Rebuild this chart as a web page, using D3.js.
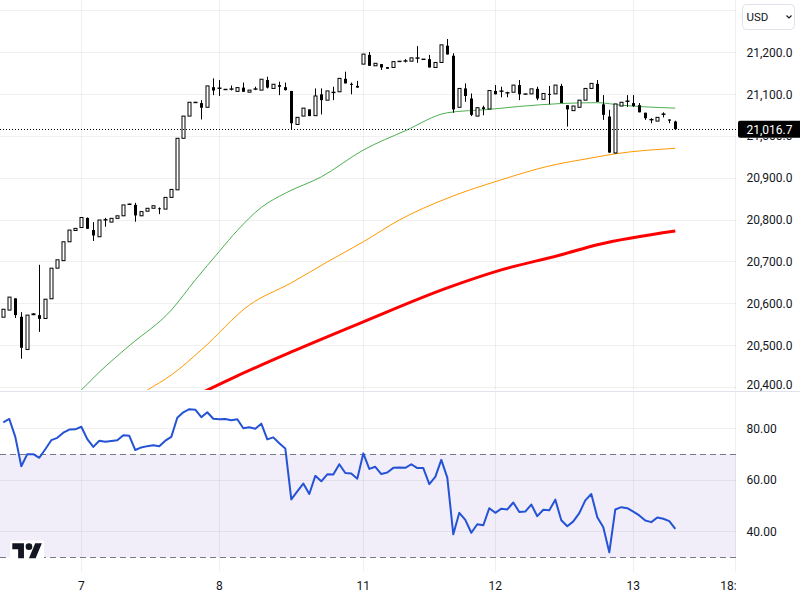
<!DOCTYPE html>
<html><head><meta charset="utf-8">
<script src="https://cdn.jsdelivr.net/npm/d3@7"></script>
<style>html,body{margin:0;padding:0;background:#fff;overflow:hidden}svg{display:block}text{font-family:Roboto,"DejaVu Sans",sans-serif}</style>
</head><body><svg id="c" width="800" height="600"></svg>
<script>
// ---- DATA (hourly candles, index 0..112) ----
const opens=[20568,20585,20613,20569,20491,20574,20573,20565,20612,20685,20703,20748,20775,20782,20805,20776,20760,20800,20795,20804,20810,20837,20836,20810,20821,20828,20828,20826,20854,20872,20995,21048,21080,21079,21069,21117,21114,21111,21112,21107,21116,21105,21112,21110,21134,21114,21122,21117,21108,21028,21048,21064,21049,21100,21086,21104,21106,21137,21125,21120,21172,21194,21168,21172,21165,21164,21178,21179,21179,21186,21183,21184,21164,21176,21216,21192,21069,21114,21090,21048,21069,21065,21108,21107,21103,21105,21122,21100,21101,21113,21088,21101,21101,21120,21074,21061,21069,21086,21114,21125,21076,21047,20960,21072,21083,21079,21074,21056,21039,21036,21052,21040,21035];
const highs=[20587,20616,20613,20580,20573,20577,20693,20611,20685,20705,20748,20776,20780,20806,20806,20795,20800,20805,20804,20810,20836,20839,20841,20820,20828,20834,20830,20854,20873,20995,21048,21081,21082,21086,21120,21138,21134,21112,21121,21116,21128,21110,21118,21136,21142,21124,21130,21128,21108,21045,21067,21064,21114,21114,21108,21118,21138,21154,21128,21132,21196,21201,21174,21172,21165,21178,21179,21184,21187,21215,21184,21194,21176,21218,21232,21198,21114,21126,21102,21068,21073,21109,21122,21118,21106,21122,21134,21101,21113,21118,21102,21120,21122,21125,21074,21072,21086,21114,21126,21134,21098,21063,21077,21081,21098,21098,21079,21056,21043,21045,21057,21040,21037];
const lows=[20568,20585,20566,20469,20491,20573,20533,20565,20612,20685,20703,20748,20775,20782,20779,20750,20760,20784,20795,20804,20810,20837,20796,20810,20821,20828,20814,20826,20854,20872,20995,21048,21080,21040,21069,21098,21096,21111,21109,21107,21106,21105,21110,21110,21114,21114,21098,21109,21017,21028,21048,21048,21049,21052,21086,21086,21106,21126,21100,21116,21172,21168,21168,21158,21161,21164,21178,21176,21179,21175,21183,21164,21164,21176,21195,21056,21069,21082,21048,21048,21050,21065,21100,21093,21093,21105,21086,21100,21101,21086,21088,21076,21101,21079,21023,21061,21069,21086,21114,21082,21039,20960,20959,21072,21070,21070,21057,21039,21031,21036,21045,21031,21016];
const closes=[20587,20616,20573,20495,20573,20576,20564,20611,20685,20705,20748,20776,20780,20806,20779,20763,20800,20801,20804,20810,20836,20838,20811,20820,20828,20834,20827,20854,20873,20995,21048,21081,21081,21068,21120,21109,21115,21112,21113,21116,21106,21110,21113,21136,21116,21124,21118,21110,21031,21045,21067,21048,21096,21086,21108,21105,21138,21126,21124,21116,21196,21168,21174,21164,21161,21178,21179,21180,21187,21187,21184,21164,21176,21218,21195,21064,21114,21096,21051,21068,21065,21109,21100,21108,21104,21122,21100,21101,21113,21090,21102,21100,21122,21079,21064,21072,21086,21114,21126,21082,21051,20961,21077,21081,21084,21072,21057,21043,21040,21045,21053,21037,21016.7];
const rsiValues=[82.3,83.6,76.7,65.3,70.0,70.0,68.6,71.9,75.4,76.3,78.3,79.5,79.6,80.6,75.8,72.8,75.2,74.8,75.1,75.4,77.3,77.1,71.6,72.6,73.1,73.4,73.1,75.2,76.7,84.1,86.2,87.4,87.2,84.3,86.2,83.7,83.5,83.6,83.1,83.5,80.0,80.4,79.8,81.8,75.7,76.5,74.2,72.2,52.5,55.6,58.6,54.6,61.6,59.5,62.2,62.1,66.1,62.7,62.5,60.5,70.3,64.3,65.1,62.3,62.9,64.7,64.8,64.7,66.1,64.6,64.6,58.4,61.2,67.8,60.9,39.0,47.3,44.6,39.6,42.9,42.5,49.1,47.3,48.9,48.6,51.3,47.6,47.8,50.5,46.0,48.5,48.3,52.4,44.4,42.1,44.0,47.2,52.1,54.6,45.6,41.7,32.0,48.6,49.5,49.1,47.8,46.3,44.3,43.7,45.5,45.0,44.1,41.1];
// moving averages read at candle indices: [index, price]
const maGreen=[[12,20380],[13,20394],[16,20437],[21,20500],[28,20585],[32,20657],[36,20725],[39,20775],[43,20830],[47,20864],[53,20903],[60,20967],[67,21013],[74,21056],[81,21064],[86,21071],[93,21078],[99,21080],[103,21074],[112,21067]];
const maOrange=[[22,20376],[24,20394],[28,20430],[33,20490],[41,20597],[48,20650],[54,20700],[60,20748],[66,20800],[74,20852],[83,20896],[91,20929],[98,20948],[102,20958],[112,20971]];
const maRed=[[32,20380],[34,20394],[39,20428],[48,20485],[60,20557],[74,20638],[83,20681],[93,20717],[99,20741],[112,20774]];
const dayTickIdx=[13,36,60,82,105,122];
const dayLabels=["7","8","11","12","13","18:00"];
const priceGrid=[20400,20500,20600,20700,20800,20900,21000,21100,21200,21300];
const priceLabels=[20400,20500,20600,20700,20800,20900,21000,21100,21200];
const rsiTicks=[40,60,80];
const rsiBand=[30,70];
const lastPrice=21016.7;
const currency="USD";

// ---- LAYOUT ----
const W=736, priceBottom=390, rsiTop=391, rsiBottom=572;
const svg=d3.select('#c');
const x=d3.scaleLinear().domain([0,122]).range([3.3,735.3]);
const y=d3.scaleLinear().domain([20400,21200]).range([387.6,52.4]);
const yr=d3.scaleLinear().domain([40,80]).range([531.7,428.3]);
const fmtP=d3.format(",.1f"), fmtR=d3.format(".2f");
const px=v=>Math.round(v-0.5)+0.5;

svg.append('rect').attr('width',800).attr('height',600).attr('fill','#fff');
const defs=svg.append('defs');
defs.append('clipPath').attr('id','cp').append('rect').attr('x',0).attr('y',0).attr('width',W).attr('height',priceBottom);
defs.append('clipPath').attr('id','cr').append('rect').attr('x',0).attr('y',rsiTop).attr('width',W).attr('height',rsiBottom-rsiTop);
defs.append('clipPath').attr('id','ct').append('rect').attr('x',0).attr('y',rsiBottom).attr('width',W).attr('height',600-rsiBottom);
defs.append('clipPath').attr('id','cl2').append('rect').attr('x',738).attr('y',y(lastPrice)+8.5).attr('width',62).attr('height',20);

// RSI band
svg.append('rect').attr('x',0).attr('width',W).attr('y',yr(rsiBand[1])).attr('height',yr(rsiBand[0])-yr(rsiBand[1])).attr('fill','#f1edf9');

// grid
const grid=svg.append('g').attr('stroke','#2a2e39').attr('stroke-opacity',0.07).attr('stroke-width',1);
grid.selectAll('.hp').data(priceGrid).join('line').attr('x1',0).attr('x2',W).attr('y1',d=>px(y(d))).attr('y2',d=>px(y(d)));
grid.selectAll('.hr').data(rsiTicks).join('line').attr('x1',0).attr('x2',W).attr('y1',d=>px(yr(d))).attr('y2',d=>px(yr(d)));
grid.selectAll('.vp').data(dayTickIdx).join('line').attr('x1',d=>px(x(d))).attr('x2',d=>px(x(d))).attr('y1',0).attr('y2',priceBottom);
grid.selectAll('.vr').data(dayTickIdx).join('line').attr('x1',d=>px(x(d))).attr('x2',d=>px(x(d))).attr('y1',rsiTop).attr('y2',rsiBottom);

// pane separator
svg.append('line').attr('x1',0).attr('x2',800).attr('y1',391.5).attr('y2',391.5).attr('stroke','#e0e3eb');

// moving averages
const gp=svg.append('g').attr('clip-path','url(#cp)');
const maLine=d3.line().x(d=>x(d[0])).y(d=>y(d[1])).curve(d3.curveMonotoneX);
gp.append('path').attr('d',maLine(maGreen)).attr('fill','none').attr('stroke','#4caf50').attr('stroke-width',1);
gp.append('path').attr('d',maLine(maOrange)).attr('fill','none').attr('stroke','#ff9800').attr('stroke-width',1);
gp.append('path').attr('d',maLine(maRed)).attr('fill','none').attr('stroke','#ff0000').attr('stroke-width',3).attr('stroke-linejoin','round');

// candles
const idx=d3.range(opens.length);
const cg=gp.append('g');
idx.forEach(i=>{
  const cx=px(x(i)), o=opens[i], c=closes[i];
  cg.append('line').attr('x1',cx).attr('x2',cx).attr('y1',y(highs[i])).attr('y2',y(lows[i])).attr('stroke','#000').attr('stroke-width',1);
  if(c>=o){
    cg.append('rect').attr('x',cx-1.5).attr('width',3).attr('y',y(c)).attr('height',Math.max(y(o)-y(c),0.4))
      .attr('fill','#fff').attr('stroke','#000').attr('stroke-width',1);
  } else {
    cg.append('rect').attr('x',cx-1.5).attr('width',3).attr('y',y(o)).attr('height',Math.max(y(c)-y(o),1)).attr('fill','#000');
  }
});

// last price dotted line
svg.append('line').attr('x1',0).attr('x2',W).attr('y1',px(y(lastPrice))).attr('y2',px(y(lastPrice)))
  .attr('stroke','#000').attr('stroke-width',1).attr('stroke-dasharray','1,2');

// RSI
const gr=svg.append('g').attr('clip-path','url(#cr)');
gr.selectAll('.dl').data(rsiBand).join('line').attr('x1',0).attr('x2',W).attr('y1',d=>px(yr(d))).attr('y2',d=>px(yr(d)))
  .attr('stroke','#787b86').attr('stroke-width',1).attr('stroke-dasharray','6,4');
gr.append('path').attr('d',d3.line().x((d,i)=>x(i)).y(d=>yr(d))(rsiValues))
  .attr('fill','none').attr('stroke','#2453d6').attr('stroke-width',2).attr('stroke-linejoin','round');

// price axis labels (the label hidden behind the last-price tag is clipped to its visible part)
const ly=y(lastPrice);
const ax=svg.append('g').attr('font-size',12).attr('fill','#131722');
const hidden=priceLabels.filter(d=>Math.abs(y(d)-ly)<12);
ax.selectAll('.pl').data(priceLabels.filter(d=>!hidden.includes(d))).join('text').attr('x',746.5).attr('y',d=>Math.min(y(d),385)+4.2).text(d=>fmtP(d));
ax.selectAll('.rl').data(rsiTicks).join('text').attr('x',746.5).attr('y',d=>yr(d)+4.2).text(d=>fmtR(d));
// time labels
svg.append('g').attr('clip-path','url(#ct)').attr('font-size',12).attr('fill','#131722').attr('text-anchor','middle')
  .selectAll('text').data(dayTickIdx).join('text').attr('x',d=>x(d)).attr('y',590.2).text((d,i)=>dayLabels[i]);

// last price label
svg.append('rect').attr('x',738).attr('y',ly-8.5).attr('width',64).attr('height',17).attr('rx',2).attr('fill','#000');
svg.append('text').attr('x',746.5).attr('y',ly+4.3).attr('font-size',12).attr('fill','#fff').text(fmtP(lastPrice));
// partly visible label just below the tag
svg.append('g').attr('clip-path','url(#cl2)').selectAll('text').data(hidden).join('text')
  .attr('x',746.5).attr('y',d=>y(d)+4.2).attr('font-size',12).attr('fill','#131722').text(d=>fmtP(d));

// currency box
svg.append('rect').attr('x',742.5).attr('y',4.5).attr('width',52).attr('height',25).attr('rx',4).attr('fill','#fff').attr('stroke','#e0e3eb');
svg.append('text').attr('x',746.5).attr('y',21).attr('font-size',11.5).attr('fill','#131722').text(currency);
svg.append('path').attr('d','M786.5,15.5 L789,18 L791.5,15.5').attr('fill','none').attr('stroke','#131722').attr('stroke-width',1.1);

// logo
svg.append('rect').attr('x',10).attr('y',540.5).attr('width',34).attr('height',18).attr('fill','#fff');
const lg=svg.append('g').attr('transform','translate(12.3,540) scale(0.833)').attr('fill','#131722');
lg.append('path').attr('d','M14 22H7V11H0V4h14v18zM28 22h-8l7.5-18h8L28 22z');
lg.append('circle').attr('cx',20).attr('cy',8).attr('r',4);
</script></body></html>
